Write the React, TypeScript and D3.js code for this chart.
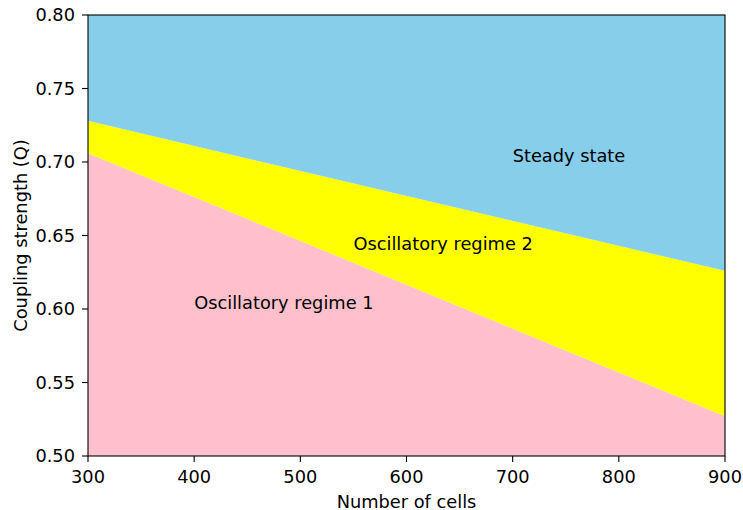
import React from "react";
import * as d3 from "d3";

const cells = [300, 900];
const lowerBoundary = [0.706, 0.527];
const upperBoundary = [0.728, 0.626];
const xTicks = [300, 400, 500, 600, 700, 800, 900];
const yTicks = [0.5, 0.55, 0.6, 0.65, 0.7, 0.75, 0.8];
const regionLabels = [
  { text: "Steady state", x: 700, y: 0.7 },
  { text: "Oscillatory regime 2", x: 550, y: 0.64 },
  { text: "Oscillatory regime 1", x: 400, y: 0.6 },
];

const W = 743, H = 510;
const left = 88, right = 725, top = 15, bottom = 456;
const FS = 17.8;

export default function App() {
  const x = d3.scaleLinear().domain([300, 900]).range([left, right]);
  const y = d3.scaleLinear().domain([0.5, 0.8]).range([bottom, top]);
  const pts = cells.map((c, i) => ({ c, lo: lowerBoundary[i], hi: upperBoundary[i] }));
  const pink = d3.area<any>().x((d) => x(d.c)).y0(() => y(0.5)).y1((d) => y(d.lo))(pts) as string;
  const yellow = d3.area<any>().x((d) => x(d.c)).y0((d) => y(d.lo)).y1((d) => y(d.hi))(pts) as string;
  const blue = d3.area<any>().x((d) => x(d.c)).y0((d) => y(d.hi)).y1(() => y(0.8))(pts) as string;
  const font = "DejaVu Sans, sans-serif";
  return (
    <svg width={W} height={H} style={{ position: "absolute", left: 0, top: 0, background: "#fff" }} fontFamily={font}>
      <path d={pink} fill="#FFC0CB" />
      <path d={yellow} fill="#FFFF00" />
      <path d={blue} fill="#87CEEB" />
      {regionLabels.map((l) => (
        <text key={l.text} x={x(l.x)} y={y(l.y)} fontSize={FS} fill="#000">{l.text}</text>
      ))}
      <rect x={left} y={top} width={right - left} height={bottom - top} fill="none" stroke="#000" strokeWidth={1.1} />
      {xTicks.map((t) => (
        <g key={t}>
          <line x1={x(t)} x2={x(t)} y1={bottom} y2={bottom + 6} stroke="#000" strokeWidth={1.1} />
          <text x={x(t)} y={bottom + 27} textAnchor="middle" fontSize={FS}>{t}</text>
        </g>
      ))}
      {yTicks.map((t) => (
        <g key={t}>
          <line x1={left - 6} x2={left} y1={y(t)} y2={y(t)} stroke="#000" strokeWidth={1.1} />
          <text x={left - 13} y={y(t)} dy="0.36em" textAnchor="end" fontSize={FS}>{t.toFixed(2)}</text>
        </g>
      ))}
      <text x={(left + right) / 2} y={507.5} textAnchor="middle" fontSize={FS}>Number of cells</text>
      <text transform={`translate(26.5,${(top + bottom) / 2}) rotate(-90)`} textAnchor="middle" fontSize={FS}>Coupling strength (Q)</text>
    </svg>
  );
}
